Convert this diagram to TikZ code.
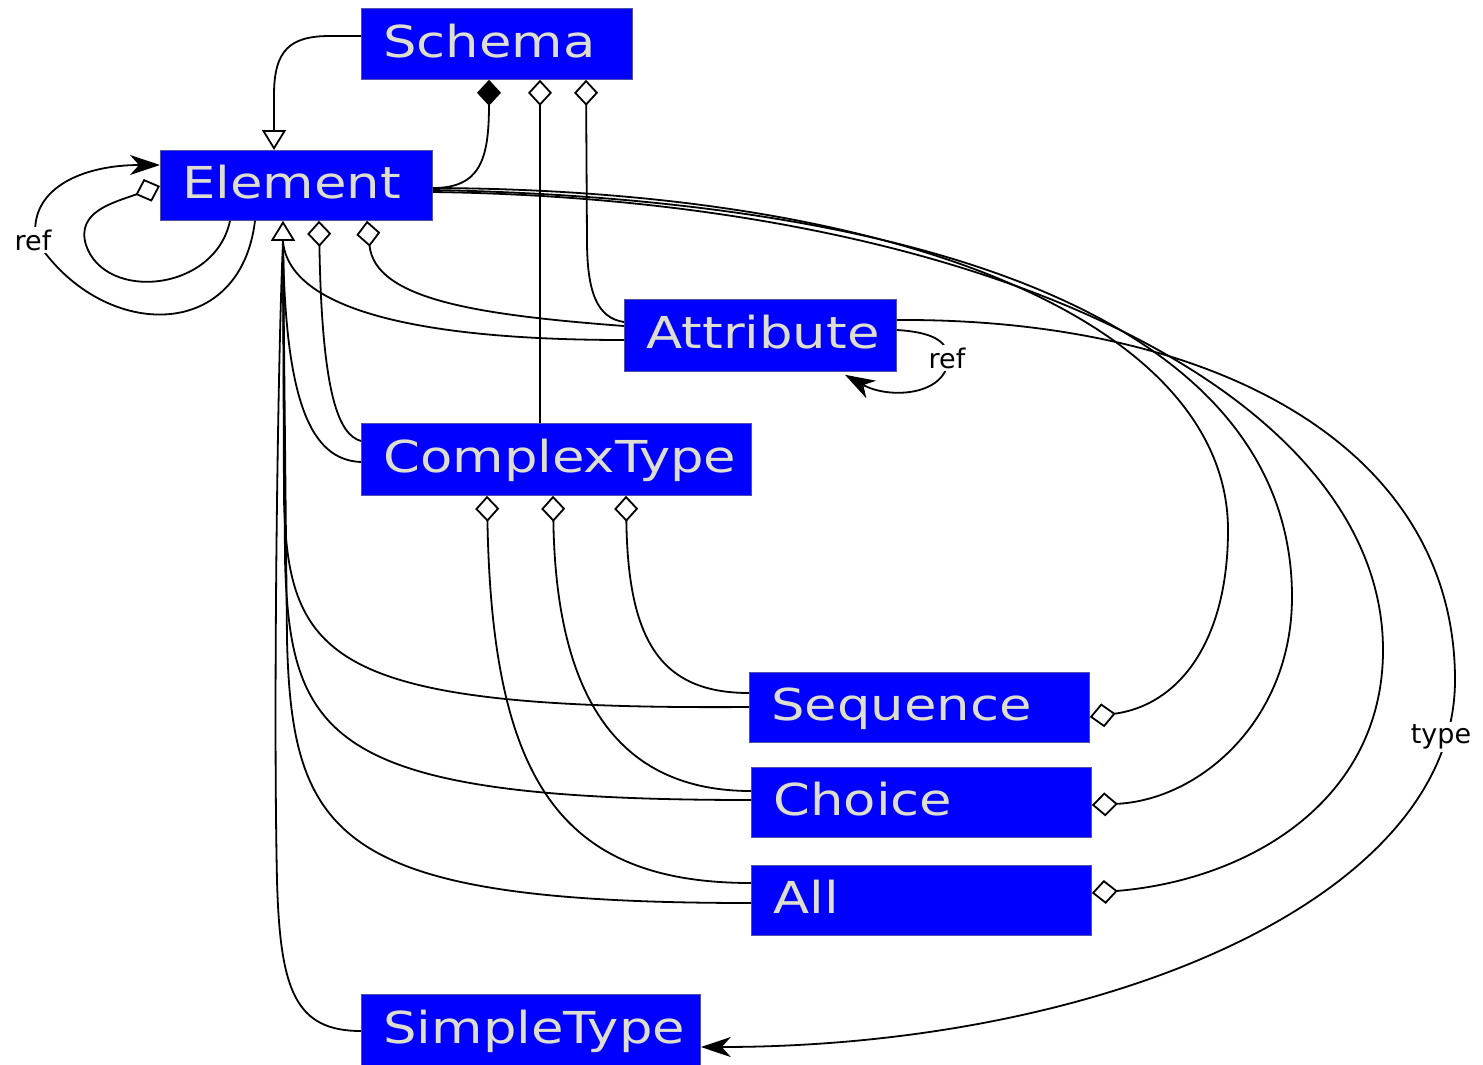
\documentclass[tikz,border=0pt]{standalone}
\usepackage{fontspec}
\usetikzlibrary{arrows.meta,calc}
\newfontfamily\boxfont[FakeStretch=1.2]{DejaVu Sans}
\newfontfamily\labfont{DejaVu Sans}
\definecolor{boxblue}{RGB}{0,0,255}
\definecolor{boxtext}{RGB}{222,222,208}
\definecolor{boxedge}{RGB}{80,80,170}
\tikzset{
  cls/.style={draw=boxedge, line width=0.8pt, fill=boxblue, text=boxtext,
    font=\boxfont\fontsize{44pt}{48pt}\selectfont, anchor=north west,
    inner xsep=22pt, inner ysep=0pt, align=left, minimum height=71pt,
    text height=36pt, text depth=9pt},
  ln/.style={line width=1.8pt, black},
  odia/.style={-{Diamond[fill=white,length=26pt,width=24pt]}},
  fdia/.style={-{Diamond[length=26pt,width=24pt]}},
  gen/.style={-{Triangle[fill=white,length=20pt,width=24pt]}},
  refarr/.style={-{Stealth[length=30pt,width=20pt,inset=9pt]}},
  lbl/.style={fill=white, text=black, font=\labfont\fontsize{27pt}{30pt}\selectfont, inner sep=3pt}
}
\begin{document}
\begin{tikzpicture}[x=1pt,y=-1pt]
\useasboundingbox (0,0) rectangle (1483,1065);
\fill[white] (0,0) rectangle (1483,1065);

% classes
\node[cls, text width=227pt] (schema) at (361,8) {Schema};
\node[cls, text width=228pt, minimum height=70pt] (element) at (160,150) {Element};
\node[cls, text width=228pt, minimum height=72pt] (attribute) at (624,299) {Attribute};
\node[cls, text width=346pt, minimum height=72pt] (complex) at (361,423) {ComplexType};
\node[cls, text width=296pt, minimum height=70pt] (sequence) at (749,672) {Sequence};
\node[cls, text width=296pt, minimum height=70pt] (choice) at (751,767) {Choice};
\node[cls, text width=296pt, minimum height=70pt] (all) at (751,865) {All};
\node[cls, text width=295pt, minimum height=71pt] (simple) at (361,994) {SimpleType};

% ports
\coordinate (sgen) at ($(schema.north west)+(0,28)$);
\coordinate (sd1) at ($(schema.south west)+(128,0)$);
\coordinate (sd2) at ($(schema.south west)+(179,0)$);
\coordinate (sd3) at ($(schema.south west)+(225,0)$);
\coordinate (etop) at ($(element.north west)+(114,0)$);
\coordinate (er1) at ($(element.north east)+(0,38)$);
\coordinate (er2) at ($(element.north east)+(0,40)$);
\coordinate (er3) at ($(element.north east)+(0,42)$);
\coordinate (egt) at ($(element.south west)+(123,0)$);
\coordinate (egb) at ($(element.south west)+(123,21)$);
\coordinate (ed1) at ($(element.south west)+(159,0)$);
\coordinate (ed2) at ($(element.south west)+(207,0)$);
\coordinate (eb1) at ($(element.south west)+(70,0)$);
\coordinate (eb2) at ($(element.south west)+(95,0)$);
\coordinate (eld) at ($(element.north west)+(0,36)$);
\coordinate (ela) at ($(element.north west)+(0,15)$);
\coordinate (al1) at ($(attribute.north west)+(0,23)$);
\coordinate (al2) at ($(attribute.north west)+(0,27)$);
\coordinate (al3) at ($(attribute.north west)+(0,41)$);
\coordinate (ar1) at ($(attribute.north east)+(0,21)$);
\coordinate (ar2) at ($(attribute.north east)+(0,31)$);
\coordinate (abt) at ($(attribute.south west)+(221,3)$);
\coordinate (ctop) at ($(complex.north west)+(179,0)$);
\coordinate (cl1) at ($(complex.north west)+(0,18)$);
\coordinate (cl2) at ($(complex.north west)+(0,39)$);
\coordinate (cd1) at ($(complex.south west)+(126,0)$);
\coordinate (cd2) at ($(complex.south west)+(192,0)$);
\coordinate (cd3) at ($(complex.south west)+(265,0)$);
\coordinate (ql1) at ($(sequence.north west)+(0,21)$);
\coordinate (ql2) at ($(sequence.north west)+(0,35)$);
\coordinate (qr) at ($(sequence.north east)+(0,45)$);
\coordinate (hl1) at ($(choice.north west)+(0,24)$);
\coordinate (hl2) at ($(choice.north west)+(0,33)$);
\coordinate (hr) at ($(choice.north east)+(0,38)$);
\coordinate (ll1) at ($(all.north west)+(0,18)$);
\coordinate (ll2) at ($(all.north west)+(0,38)$);
\coordinate (lr) at ($(all.north east)+(0,28)$);
\coordinate (pl) at ($(simple.north west)+(0,37)$);
\coordinate (pr) at ($(simple.north east)+(0,53)$);

% Schema -> Element (generalization)
\draw[ln,gen] (sgen) -- (330,36) .. controls (290,36) and (274,50) .. (274,95) -- (etop);
% Element -> Schema (composition)
\draw[ln,fdia] (er1) .. controls (480,188) and (489,160) .. (sd1);
% ComplexType -> Schema
\draw[ln,odia] (ctop) -- (sd2);
% Attribute -> Schema
\draw[ln,odia] (al1) .. controls (597,318) and (587,292) .. (587,240) -- (sd3);

% Element self aggregation loop
\draw[ln,odia] (eb1) .. controls (215,292) and (105,302) .. (86,245) .. controls (76,212) and (112,203) .. (eld);
% Element ref loop
\draw[ln,refarr] (eb2) .. controls (240,345) and (100,340) .. (36,240) .. controls (28,190) and (80,165) .. (ela);
\node[lbl] (ref1) at (33,240) {ref};

% Attribute -> Element aggregation
\draw[ln,odia] (al2) .. controls (480,315) and (375,300) .. (ed2);
% ComplexType -> Element aggregation
\draw[ln,odia] (cl1) .. controls (340,435) and (322,400) .. (ed1);

% generalizations into Element
\draw[ln] (al3) .. controls (420,340) and (290,310) .. (egb);
\draw[ln] (cl2) .. controls (310,460) and (285,400) .. (egb);
\draw[ln] (ql2) .. controls (330,710) and (288,660) .. (284,500) -- (egb);
\draw[ln] (hl2) .. controls (330,800) and (290,740) .. (285,560) -- (egb);
\draw[ln] (ll2) .. controls (340,903) and (292,840) .. (287,640) -- (egb);
\draw[ln] (pl) .. controls (295,1031) and (280,990) .. (277,880) .. controls (273,700) and (278,350) .. (egb);
\draw[ln,gen] (egb) -- (egt);

% ComplexType aggregations
\draw[ln,odia] (ll1) .. controls (560,883) and (492,780) .. (cd1);
\draw[ln,odia] (hl1) .. controls (620,791) and (556,700) .. (cd2);
\draw[ln,odia] (ql1) .. controls (660,693) and (628,640) .. (cd3);

% Element -> Sequence / Choice / All
\draw[ln,odia] (er1) .. controls (920,190) and (1228,330) .. (1228,530) .. controls (1228,640) and (1180,705) .. (qr);
\draw[ln,odia] (er2) .. controls (950,200) and (1292,330) .. (1292,597) .. controls (1292,720) and (1200,800) .. (hr);
\draw[ln,odia] (er3) .. controls (1000,200) and (1383,400) .. (1383,650) .. controls (1383,800) and (1250,880) .. (lr);

% Attribute type -> SimpleType
\draw[ln,refarr] (ar1) .. controls (1220,318) and (1455,450) .. (1455,680) .. controls (1455,900) and (1100,1047) .. (pr);
\node[lbl] (type) at (1441,737) {type};

% Attribute ref loop
\draw[ln,refarr] (ar2) .. controls (930,332) and (948,340) .. (948,358) .. controls (948,395) and (890,400) .. (abt);
\node[lbl] (ref2) at (947,358) {ref};
\end{tikzpicture}
\end{document}
